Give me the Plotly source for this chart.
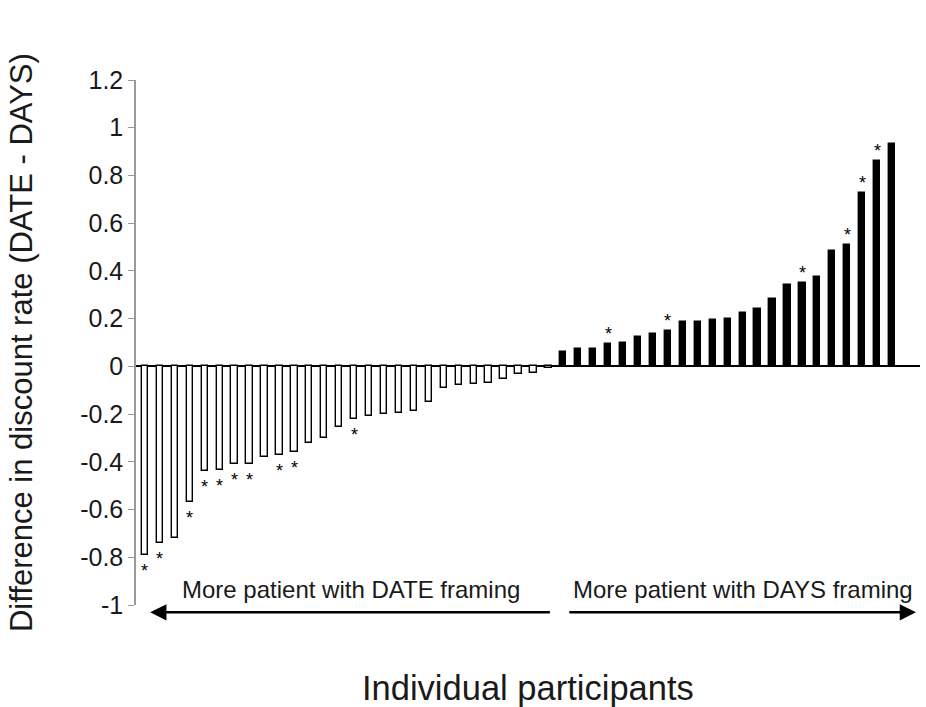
import plotly.graph_objects as go

# Per-participant difference in discount rate (DATE - DAYS), sorted ascending
date_side_diffs = [-0.79, -0.74, -0.72, -0.57, -0.44, -0.435, -0.41, -0.41,
                   -0.38, -0.373, -0.36, -0.32, -0.30, -0.255, -0.22, -0.21,
                   -0.20, -0.195, -0.187, -0.15, -0.091, -0.08, -0.073,
                   -0.068, -0.052, -0.034, -0.028, -0.005]
days_side_diffs = [0.06, 0.074, 0.074, 0.094, 0.098, 0.123, 0.136, 0.147,
                   0.185, 0.185, 0.196, 0.20, 0.222, 0.242, 0.283, 0.34,
                   0.35, 0.373, 0.485, 0.51, 0.728, 0.86, 0.93]

# 1 = individually significant difference (marked with an asterisk)
date_side_sig = [1, 1, 0, 1, 1, 1, 1, 1, 0, 1, 1, 0, 0, 0, 1, 0, 0, 0, 0, 0,
                 0, 0, 0, 0, 0, 0, 0, 0]
days_side_sig = [0, 0, 0, 1, 0, 0, 0, 1, 0, 0, 0, 0, 0, 0, 0, 0, 1, 0, 0, 1,
                 1, 1, 0]

y_tick_values = [-1, -0.8, -0.6, -0.4, -0.2, 0, 0.2, 0.4, 0.6, 0.8, 1, 1.2]
y_tick_labels = ["-1", "-0.8", "-0.6", "-0.4", "-0.2", "0", "0.2", "0.4",
                 "0.6", "0.8", "1", "1.2"]

y_title = "Difference in discount rate (DATE - DAYS)"
x_title = "Individual participants"
date_label = "More patient with DATE framing"
days_label = "More patient with DAYS framing"

FONT = "Liberation Sans, Arial, sans-serif"
TEXT = "#1a1a1a"

values = date_side_diffs + days_side_diffs
sig = date_side_sig + days_side_sig
participants = list(range(len(values)))
n_date = len(date_side_diffs)
n_all = len(values)

fill = ["white" if v < 0 else "black" for v in values]

fig = go.Figure()
fig.add_trace(go.Bar(
    x=participants,
    y=values,
    width=0.42,
    marker=dict(color=fill, line=dict(color="black", width=1.4)),
    hoverinfo="skip",
    showlegend=False,
))

annotations = []
# asterisks just past the end of each significant bar
for p, v, s in zip(participants, values, sig):
    if not s:
        continue
    annotations.append(dict(
        x=p, y=v, xref="x", yref="y", text="*", showarrow=False,
        yanchor="middle", yshift=(-16 if v < 0 else 10),
        font=dict(family=FONT, size=18, color="black"),
    ))

# group labels and direction arrows beneath the axis
annotations += [
    dict(x=(n_date - 1) / 2 + 0.3, y=0.029, xref="x", yref="paper",
         text=date_label, showarrow=False, yanchor="middle",
         font=dict(family=FONT, size=24, color=TEXT)),
    dict(x=n_date + (n_all - n_date - 1) / 2 + 1.0, y=0.029,
         xref="x", yref="paper", text=days_label, showarrow=False,
         yanchor="middle", font=dict(family=FONT, size=24, color=TEXT)),
    dict(x=0.35, y=-0.014, xref="x", yref="paper", text="",
         showarrow=True, axref="x", ax=n_date - 0.8, ayref="pixel", ay=0,
         arrowhead=2, arrowsize=1.3, arrowwidth=2.5, arrowcolor="black"),
    dict(x=n_all + 0.6, y=-0.014, xref="x", yref="paper", text="",
         showarrow=True, axref="x", ax=n_date + 0.3, ayref="pixel", ay=0,
         arrowhead=2, arrowsize=1.3, arrowwidth=2.5, arrowcolor="black"),
    dict(x=0.5, y=-0.158, xref="paper", yref="paper", text=x_title,
         showarrow=False, yanchor="middle",
         font=dict(family=FONT, size=34.5, color=TEXT)),
    dict(x=-0.146, y=0.5, xref="paper", yref="paper", text=y_title,
         textangle=-90, showarrow=False, xanchor="center", yanchor="middle",
         font=dict(family=FONT, size=31, color=TEXT)),
]

fig.update_layout(
    width=926, height=707,
    margin=dict(l=136, r=6, t=80, b=102),
    plot_bgcolor="white", paper_bgcolor="white",
    bargap=0,
    annotations=annotations,
    xaxis=dict(range=[-0.6, 51.87], showgrid=False, zeroline=False,
               showline=False, showticklabels=False, ticks=""),
    yaxis=dict(range=[-1, 1.2], tickvals=y_tick_values,
               ticktext=y_tick_labels, showgrid=False,
               zeroline=True, zerolinecolor="black", zerolinewidth=1.6,
               showline=True, linecolor="#9a9a9a", linewidth=1.5,
               ticks="outside", ticklen=6, tickcolor="#9a9a9a", tickwidth=1.3,
               tickfont=dict(family=FONT, size=25, color=TEXT)),
)

fig.write_html("out.html")
